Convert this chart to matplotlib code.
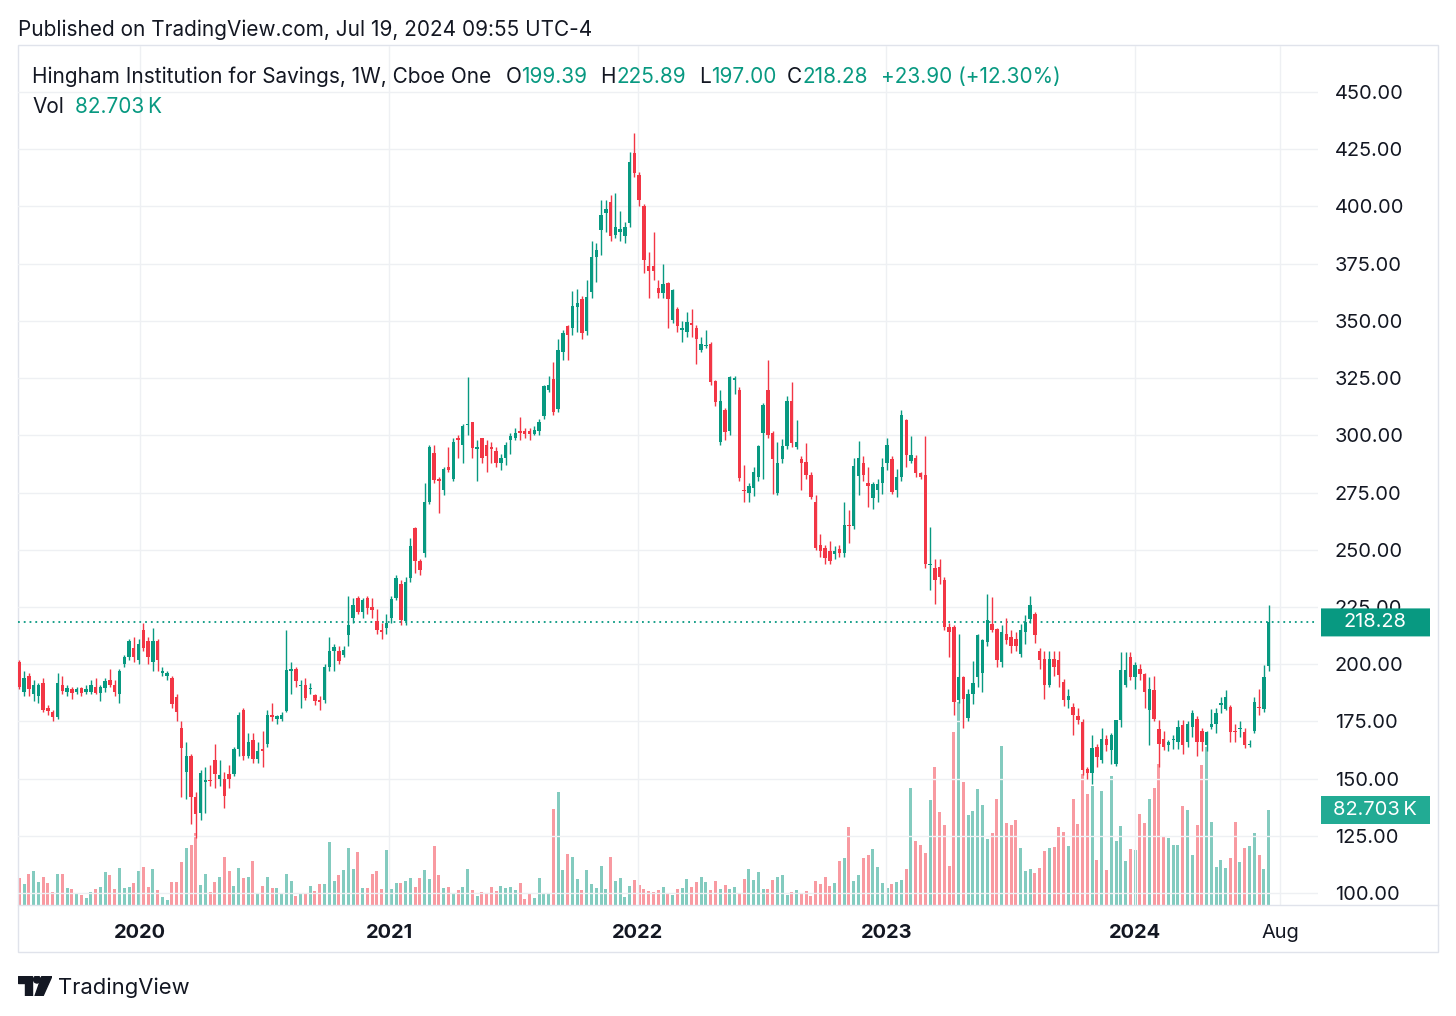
import matplotlib
matplotlib.use("Agg")
import matplotlib.pyplot as plt
import matplotlib.dates as mdates
import matplotlib.patches as mpatches
import matplotlib.transforms as mtransforms
import numpy as np
import pandas as pd
from datetime import datetime

plt.rcParams['font.family'] = ['Inter', 'DejaVu Sans']

# weekly OHLC, Jul 2019 -> Jul 2024
opens = [201, 188, 195, 187, 186, 192, 181, 179, 177, 191, 188, 189, 188, 189.5, 188, 188, 190, 187.5, 189.5, 193,
         191, 187, 200, 203, 207, 202, 215, 210, 201, 210, 196, 195, 194, 185.5, 172, 153, 160, 142, 135, 148.5,
         149.5, 158, 150, 150, 152, 152, 163, 180, 160, 167, 158.5, 163, 165, 178, 176, 176, 179.4, 197, 198, 190.5,
         191, 189, 186.7, 184.5, 184.5, 199, 206, 206, 204, 212.9, 220.2, 229, 222.8, 229, 225, 219, 215, 216, 220, 229,
         235, 218.7, 237.7, 259.5, 245, 248.6, 271, 292.5, 281, 276.2, 286, 281, 299, 296, 304.5, 305.8, 294, 298.8, 296, 295,
         293, 288, 290, 298, 299, 302, 302, 302, 300.5, 301.7, 308.3, 320, 324.6, 311.5, 336.6, 347.6, 346.8, 356, 359.5, 345.4,
         362.8, 378, 389.8, 397, 402, 387.6, 389, 386.9, 392.7, 423.5, 413.8, 400, 374, 374, 364.3, 362, 366.7, 350.5, 355.2, 346,
         345, 349, 347, 337.4, 339, 340, 323.6, 296.9, 311, 302, 324, 320, 276, 275, 277, 282, 301, 320, 301, 275,
         289.6, 295.2, 314.8, 294.9, 289.6, 288.5, 282.8, 271.1, 252.3, 250.8, 249.4, 248, 250.5, 248.6, 261, 260.2, 282.3, 287.8, 279.2, 272.8,
         276, 279, 287.9, 289.8, 276, 281.8, 306.6, 289, 290, 283.5, 282.5, 243.5, 242, 242.7, 237, 216.3, 216.3, 184.3, 194.5, 176.3,
         187.2, 194.5, 196, 209.8, 217.4, 215.6, 201, 213, 212, 211, 204.6, 214, 219.9, 222, 206, 202.4, 190.8, 202.4, 201.7, 192.2,
         184.2, 181.4, 177.3, 174.8, 154.4, 152.3, 163.9, 158.1, 167.5, 162.4, 156.6, 175.5, 190.8, 203.1, 194.4, 198, 195.8, 179.9, 188.6, 171.9,
         167.5, 164.6, 167, 166, 173.4, 166, 172.5, 176, 171, 164.6, 172.5, 174, 182.4, 180.6, 181.3, 171, 171.5, 170.5, 164.6, 171,
         181, 180.6, 199.39]
highs = [202, 197, 196, 193, 192, 194, 182, 180, 196, 195, 191, 190, 190, 190, 191, 193, 194, 191, 194, 198,
         193, 198, 204, 211, 212, 211, 218, 212, 216, 211, 199, 197, 195, 187, 175, 166, 161, 144, 154, 155,
         156, 165, 158, 153, 156, 164, 179, 181, 170, 170, 166, 171, 180, 183, 178, 179, 215, 201, 199, 193,
         194, 192, 187, 186, 200, 212, 209, 208, 208, 229.7, 229, 230, 229, 230, 229, 224, 218, 222, 230, 239,
         237, 238, 255, 260, 246, 279, 296, 296, 282, 286, 295, 299, 300, 305, 325.7, 306, 298, 299, 298, 297,
         295, 292, 297, 301, 303, 308, 303, 303, 304, 307, 322, 326, 332, 342, 346, 348, 363, 364, 361, 368,
         385, 384, 403, 403, 405, 406, 398, 393, 424, 432, 415, 401, 380, 389, 368, 375, 367, 364, 356, 350,
         354, 355, 348, 343, 346, 341, 324, 320, 312, 326, 326, 321, 287, 279, 286, 296, 314, 333, 302, 297,
         298.5, 317, 323.5, 306.8, 291, 296.8, 284, 274, 257, 252, 254, 251.5, 252, 271, 267.5, 290, 297.6, 291, 286, 279.5,
         281, 290, 299, 291, 285.5, 310.9, 307, 299.6, 291.5, 284, 299.6, 260, 246, 246, 238, 218, 217, 213, 195, 189,
         201.6, 213, 211, 230.9, 229.5, 216, 217, 220, 215, 214, 217.6, 221.4, 229.7, 223, 207.2, 206, 206, 206, 206, 193.6,
         189.2, 183, 180.9, 176, 155, 169, 165, 172, 169, 170, 175.6, 205.3, 205.3, 205.3, 201, 200, 196, 194.4, 195, 175.5,
         171, 167, 169, 175.5, 175.5, 175, 180, 177.5, 172, 171, 180.6, 181, 185.5, 188.6, 182, 174, 175, 172, 167, 185.5,
         189.2, 199.5, 225.89]
lows = [189, 186, 186, 184, 183, 179, 178, 175, 176, 187, 186, 185, 187, 186, 187, 187, 187, 184, 188, 190,
        186, 183, 199, 202, 201, 200, 206, 200, 197, 197, 195, 193, 181, 175, 142, 141, 130, 124, 132, 135,
        147, 146, 147, 137, 146, 151, 160, 158, 159, 157, 157, 155, 164, 175, 174, 175, 179, 187, 190, 181,
        184.5, 187, 182, 180, 183, 197, 197, 200, 203, 207.8, 218, 222, 220, 222, 220, 213, 211, 213, 218, 228,
        217, 217, 236, 240, 239, 247, 270, 279, 266, 274, 284, 280, 290, 288, 300, 290, 280, 288, 284, 288,
        286, 285, 287, 292, 298, 298, 299, 298, 300, 300, 307, 319, 309, 310, 333, 333, 344, 345, 342, 344,
        360, 367, 379, 389, 385, 386, 385, 384, 391, 413, 400, 371, 360, 368, 360, 360, 347, 349, 345, 341,
        343, 343, 331, 336.6, 338, 322, 313, 296, 298, 300, 318, 280, 271, 271, 273.5, 280, 281, 299, 274.4, 274,
        288, 294, 295, 294, 276.3, 281, 272, 250, 247, 243.7, 244, 246, 246.8, 247, 253, 259, 274, 280, 268.5, 268,
        271, 274.5, 285, 274.5, 273, 280, 286, 288, 282, 281, 242, 232.5, 226.5, 235, 215, 203, 178, 183, 172, 175,
        182.7, 190, 188, 208, 214, 199, 199, 209, 205, 206, 203, 209, 218, 209.5, 198, 185, 190, 195, 190, 181.9,
        181, 169, 174, 151.6, 150, 147.8, 155, 157, 162, 156.6, 155.5, 172.5, 190, 193, 189, 193, 181, 164.6, 175, 155,
        162.5, 162, 163, 163, 161, 164, 168, 160, 162, 162, 171.9, 170, 178.5, 180, 166, 166, 168, 163.5, 164, 170,
        178, 179, 197.00]
closes = [190, 194, 189, 191, 191, 180, 179.5, 177, 192, 188.5, 189.5, 187.5, 189, 187.5, 189, 191, 187.5, 190, 192.5, 191,
          188, 197, 203, 210, 203, 209, 207, 203, 210, 202, 197, 196, 182.5, 179, 163.5, 160, 142, 134.5, 152.5, 149.5,
          149, 152, 151.5, 142.5, 150, 163, 178, 160, 166, 158.5, 162, 162, 178, 177, 177.5, 178, 197.6, 198, 192.5, 191,
          185.3, 189.5, 183.8, 183.5, 199, 205.6, 207.5, 201.5, 206.2, 217, 226, 223, 228, 224.6, 223.5, 215, 214, 218, 228.5, 237.7,
          219.5, 236, 251.5, 245, 241.3, 271, 294.9, 280.6, 280, 285.3, 285, 297.3, 298, 303.9, 305, 294.4, 295, 290, 291, 294,
          288, 290, 296, 299.5, 301, 301, 300.5, 300.5, 302.5, 306, 321.4, 322, 310.4, 337.4, 344.6, 344, 356.3, 358, 344.6, 360.6,
          378, 381, 396.3, 399, 386.9, 391.2, 390, 391.2, 419.6, 414.5, 402.9, 376.7, 372, 372, 362.3, 366, 359.4, 363.6, 347.6, 347,
          349.5, 348, 342, 340, 339.5, 323.1, 314.4, 315.1, 301.5, 325.3, 325, 281.4, 275.5, 278, 284, 295.2, 313.4, 300.3, 289.6, 288,
          295.5, 314.8, 296.6, 296.9, 287.9, 282.8, 273, 250.8, 249.4, 246.5, 245, 249.5, 248.4, 261, 260.2, 286.7, 290.3, 282.8, 277.7, 278.9,
          278.7, 286, 295.9, 275.3, 282, 308.7, 291.3, 291.5, 283.5, 282, 244, 244, 237, 238.3, 216.3, 214, 183.6, 194.5, 185, 187.2,
          191.6, 212.7, 210.5, 219.2, 215, 201.7, 214, 210.5, 208, 208, 214.8, 218.4, 225.7, 212.6, 201.7, 190.8, 202.4, 198.7, 195.1, 184.2,
          186.3, 177.8, 175.8, 153.7, 152.3, 163.2, 159.5, 167.5, 164.6, 169, 175.5, 197.3, 197.3, 194.4, 199.5, 195.8, 187.9, 189.3, 176.2, 165.3,
          163.9, 166, 167.3, 172.5, 164.6, 174, 178.5, 166, 166, 170.5, 174, 178.7, 182.8, 185.5, 170.2, 170.3, 171.7, 164.6, 165, 183.4,
          180.9, 194.4, 218.28]
# weekly volume, thousands of shares
volumes = [23.2, 18.0, 27.0, 29.6, 19.7, 24.1, 18.9, 11.0, 27.0, 27.0,
           14.5, 13.9, 9.3, 8.7, 5.8, 11.0, 13.9, 15.7, 28.4, 26.1,
           13.6, 32.5, 14.5, 15.7, 18.9, 29.6, 33.4, 15.4, 31.0, 13.3,
           6.7, 4.4, 20.3, 19.7, 37.4, 49.9, 52.2, 62.4, 17.1, 27.0,
           11.0, 20.3, 24.7, 41.5, 29.9, 16.8, 31.9, 23.5, 24.7, 38.6,
           10.7, 16.2, 24.7, 14.8, 14.8, 9.6, 27.0, 20.9, 8.1, 10.2,
           9.6, 16.2, 12.2, 18.0, 18.0, 54.5, 20.9, 26.1, 30.2, 49.3,
           31.3, 45.8, 14.8, 14.8, 27.0, 29.9, 14.2, 47.6, 14.2, 18.9,
           19.4, 20.6, 23.2, 15.7, 23.5, 30.2, 22.6, 51.3, 26.4, 14.5,
           15.7, 9.6, 13.3, 15.4, 31.0, 12.8, 7.8, 11.3, 9.6, 15.4,
           12.2, 16.2, 15.1, 15.7, 12.8, 18.9, 5.2, 9.6, 5.8, 23.2,
           10.2, 10.2, 83.2, 98.6, 30.2, 44.7, 41.8, 22.6, 12.8, 30.2,
           18.6, 15.1, 33.9, 13.6, 41.5, 20.9, 23.5, 7.3, 16.5, 21.5,
           17.4, 13.6, 12.0,
           11.6, 12.8, 15.4, 10.2, 8.7, 13.9, 14.5, 22.6, 16.0, 19.7,
           24.1, 19.7, 12.8, 21.2, 13.9, 17.4, 13.9, 15.7, 9.6, 22.6,
           31.0, 21.8, 29.0, 14.2, 13.9, 21.8, 24.7, 26.1, 8.7, 11.6,
           13.1, 10.2, 12.5, 8.1, 20.9, 18.3, 24.7, 16.8, 18.9, 38.6,
           40.6, 68.2, 20.9, 26.1, 40.6, 43.5, 48.7, 33.4, 19.4, 14.5,
           18.6, 19.7, 21.8, 31.3, 101.5, 56.0, 52.2, 45.5, 91.4, 120.4,
           81.2, 69.6, 33.9, 150.2, 177.0, 107.3, 78.3, 81.8, 100.6, 87.0,
           57.4, 62.9, 92.2, 138.6, 71.1, 69.6, 74.0, 49.3, 29.9, 31.3,
           28.1, 31.9, 47.0, 49.9, 50.8, 68.2, 63.2, 51.3, 92.2, 70.5,
           113.7, 96.9, 103.5, 39.2, 99.5, 30.2, 112.5, 55.7, 68.7, 38.6,
           48.4, 47.9, 78.9, 71.1, 92.2, 101.5, 122.4, 60.0, 58.6, 52.2,
           52.2, 86.4, 82.7, 43.5, 69.6, 121.8, 137.8, 72.2, 32.8, 39.2,
           32.5, 40.6, 72.2, 37.1, 49.3, 51.6, 62.4, 43.5, 31.0, 82.703]

price_ticks = [100, 125, 150, 175, 200, 225, 250, 275, 300, 325, 350, 375, 400, 425, 450]
x_tick_dates = ['2020-01-01', '2021-01-01', '2022-01-01', '2023-01-01', '2024-01-01', '2024-08-01']
x_tick_labels = ['2020', '2021', '2022', '2023', '2024', 'Aug']
last_price = 218.28
last_vol = 82.703

UP = '#089981'
DOWN = '#F23645'
TXT = '#131722'
GRID = '#eef0f3'

W, H = 1456, 1016
def fx(x):
    return x / W
def fy(y):
    return 1 - y / H
def pt(px):
    return px * 0.72

dates = pd.date_range(end='2024-07-15', periods=len(closes), freq='W-MON')
xd = mdates.date2num(dates.to_pydatetime())
o = np.array(opens); c = np.array(closes); hi = np.array(highs); lo = np.array(lows)
up = c >= o
cols = np.where(up, UP, DOWN)

fig = plt.figure(figsize=(W / 100, H / 100), dpi=100)
fig.patch.set_facecolor('white')

L, R, T, B = 18, 1318, 46, 905
rect = [fx(L), fy(B), fx(R) - fx(L), fy(T) - fy(B)]
axv = fig.add_axes(rect, zorder=0)
ax = fig.add_axes(rect, zorder=1)
ax.patch.set_alpha(0)

xmin = mdates.date2num(datetime(2019, 7, 6))
xmax = xmin + (R - L) / (4.768 / 7)

# volume pane (bottom overlay)
axv.bar(xd, volumes, width=4.4, color=cols, alpha=0.5, linewidth=0)
axv.set_xlim(xmin, xmax)
vtop = (B - T) / 95 * last_vol
axv.set_ylim(0, vtop)
axv.axis('off')

# candles
ax.vlines(xd, lo, hi, colors=cols, linewidth=1.0, zorder=3)
body = np.where(np.abs(c - o) < 0.5, 0.5, c - o)
ax.bar(xd, body, bottom=o, width=5.0, color=cols, linewidth=0, zorder=4)
ax.axhline(last_price, color=UP, linestyle=(0, (1, 2.2)), linewidth=1.3, zorder=2)

ax.set_xlim(xmin, xmax)
ax.set_ylim(450 - (B - 92) / 2.289, 450 + (92 - T) / 2.289)
ax.set_yticks(price_ticks)
ax.yaxis.set_major_formatter('{x:.2f}')
ax.yaxis.tick_right()
ax.tick_params(axis='y', length=0, pad=pt(17), labelsize=pt(20), labelcolor=TXT)
xt = mdates.date2num([datetime.strptime(d, '%Y-%m-%d') for d in x_tick_dates])
ax.set_xticks(xt)
ax.set_xticklabels(x_tick_labels)
ax.tick_params(axis='x', length=0, pad=pt(19), labelsize=pt(20), labelcolor=TXT)
for lab in ax.get_xticklabels()[:5]:
    lab.set_fontweight('bold')
ax.grid(True, color=GRID, linewidth=1.0, zorder=0)
ax.set_axisbelow(True)
for s in ax.spines.values():
    s.set_visible(False)

# frame lines
fig.add_artist(mpatches.Rectangle((fx(18), fy(952)), fx(1438) - fx(18), fy(45) - fy(952),
                                  transform=fig.transFigure, fill=False, edgecolor='#e0e3eb', linewidth=1))
fig.add_artist(plt.Line2D([fx(18), fx(1438)], [fy(B), fy(B)], transform=fig.transFigure,
                          color='#e0e3eb', linewidth=1))

# header text
fig.text(fx(18), fy(30), 'Published on TradingView.com, Jul 19, 2024 09:55 UTC-4',
         fontsize=pt(20.8), color=TXT, va='center', ha='left')

legend = [(32, 'Hingham Institution for Savings, 1W, Cboe One', TXT),
          (506, 'O', TXT), (521, '199.39', UP),
          (600, 'H', TXT), (616, '225.89', UP),
          (699, 'L', TXT), (711, '197.00', UP),
          (787, 'C', TXT), (802, '218.28', UP),
          (881, '+23.90 (+12.30%)', UP)]
for x, s, col in legend:
    fig.text(fx(x), fy(77), s, fontsize=pt(20.8), color=col, va='center', ha='left')
fig.text(fx(32), fy(107), 'Vol', fontsize=pt(20.8), color=TXT, va='center', ha='left')
fig.text(fx(75), fy(107), '82.703\u2009K', fontsize=pt(20.8), color=UP, va='center', ha='left',
         family=['Inter', 'DejaVu Sans'])

# price scale labels for last values (box 1320..1430 px, 28 px tall)
tp = mtransforms.blended_transform_factory(fig.transFigure, ax.transData)
hp = 14 / 2.289
fig.add_artist(mpatches.FancyBboxPatch((fx(1321), last_price - hp), fx(1430) - fx(1321), 2 * hp,
                                       boxstyle='round,pad=0,rounding_size=0.002', transform=tp,
                                       facecolor=UP, edgecolor='none', zorder=9))
fig.text(fx(1375), last_price, '218.28', transform=tp, fontsize=pt(20), color='white',
         ha='center', va='center', zorder=10)
tv = mtransforms.blended_transform_factory(fig.transFigure, axv.transData)
hv = 14 / 95 * last_vol
fig.add_artist(mpatches.FancyBboxPatch((fx(1321), last_vol - hv), fx(1430) - fx(1321), 2 * hv,
                                       boxstyle='round,pad=0,rounding_size=0.002', transform=tv,
                                       facecolor='#22AB94', edgecolor='none', zorder=9))
fig.text(fx(1375), last_vol, '82.703\u2009K', transform=tv, fontsize=pt(20), color='white',
         ha='center', va='center', zorder=10, family=['Inter', 'DejaVu Sans'])

# TradingView logo + wordmark
logo = fig.add_axes([fx(18), fy(996), fx(52) - fx(18), fy(976) - fy(996)])
logo.set_xlim(0, 34); logo.set_ylim(0, 20); logo.axis('off')
logo.add_patch(mpatches.Polygon([(0, 20), (14, 20), (14, 0), (7, 0), (7, 13), (0, 13)], color=TXT))
logo.add_patch(mpatches.Circle((19, 16.5), 3.5, color=TXT))
logo.add_patch(mpatches.Polygon([(24, 20), (34, 20), (25, 0), (17, 0)], color=TXT))
fig.text(fx(58), fy(988), 'TradingView', fontsize=pt(22), color=TXT, va='center', ha='left')

fig.savefig('out.png', dpi=100, facecolor='white')
